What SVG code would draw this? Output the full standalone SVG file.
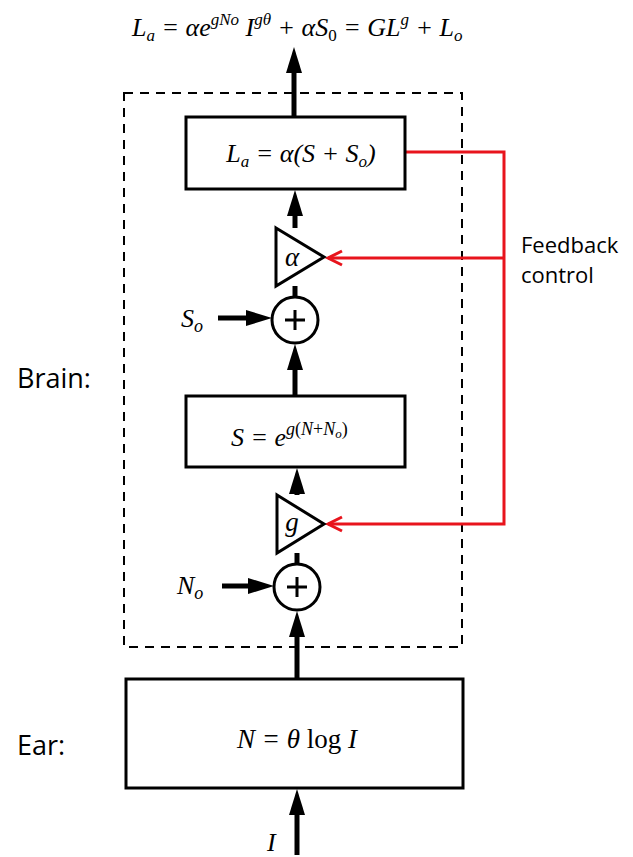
<svg xmlns="http://www.w3.org/2000/svg" width="633" height="857" viewBox="0 0 633 857">
<style>
.box{fill:#fff;stroke:#000;stroke-width:3}
.math{font-family:"Liberation Serif",serif;font-style:italic;fill:#000}
.up{font-style:normal}
.lbl{font-family:"Open Sans","Liberation Sans",sans-serif;fill:#000}
.wire{fill:none;stroke:#000;stroke-width:5}
.red{fill:none;stroke:#e8141c;stroke-width:3}
.dash{fill:none;stroke:#000;stroke-width:2;stroke-dasharray:9 7}
</style>
<defs>
<marker id="ah" markerUnits="userSpaceOnUse" markerWidth="26" markerHeight="16" viewBox="0 0 26 16" refX="16" refY="8" orient="auto">
<path d="M0,0 L26,8 L0,16 z" fill="#000"/>
</marker>
</defs>
<rect id="brain-frame" class="dash" x="124" y="93" width="338" height="554"/>
<g id="connectors">
<path class="wire" d="M294,117 V57" marker-end="url(#ah)"/>
<path class="wire" d="M295,228 V200" marker-end="url(#ah)"/>
<path class="wire" d="M295,286 V297"/>
<path class="wire" d="M295,396 V354" marker-end="url(#ah)"/>
<path class="wire" d="M297,495 V478" marker-end="url(#ah)"/>
<path class="wire" d="M297,553 V564"/>
<path class="wire" d="M297,679 V621" marker-end="url(#ah)"/>
<path class="wire" d="M297,855 V799" marker-end="url(#ah)"/>
<path class="wire" d="M218,318 H262" marker-end="url(#ah)"/>
<path class="wire" d="M222,586 H264" marker-end="url(#ah)"/>
<path class="red" d="M405,152 H504 V524 H328 M504,258 H328"/>
<path class="red" d="M342,251 L328,258 L342,265 M342,517 L328,524 L342,531"/>
</g>
<g id="title">
<text class="math" x="132" y="36" font-size="26"><tspan>L</tspan><tspan font-size="17" dy="5">a</tspan><tspan dy="-5"> = αe</tspan><tspan font-size="17" dy="-11">gNo</tspan><tspan dy="11"> I</tspan><tspan font-size="17" dy="-11">gθ</tspan><tspan dy="11"> + αS</tspan><tspan font-size="17" dy="5" class="up">0</tspan><tspan dy="-5"> = GL</tspan><tspan font-size="17" dy="-11">g</tspan><tspan dy="11"> + L</tspan><tspan font-size="17" dy="5">o</tspan></text>
</g>
<g id="out-box">
<rect class="box" x="186" y="117" width="219" height="72"/>
<text class="math" x="301" y="162" font-size="26" text-anchor="middle"><tspan>L</tspan><tspan font-size="17" dy="5">a</tspan><tspan dy="-5"> = α(S + S</tspan><tspan font-size="17" dy="5">o</tspan><tspan dy="-5">)</tspan></text>
</g>
<g id="gain-alpha">
<polygon class="box" points="276,228 324,257 276,286"/>
<text class="math" x="292" y="266" font-size="27" text-anchor="middle">α</text>
</g>
<g id="sum1">
<circle class="box" cx="295" cy="320" r="23"/>
<path d="M285,320 H305 M295,310 V330" stroke="#000" stroke-width="3"/>
<text class="math" x="181" y="327" font-size="26">S<tspan font-size="18" dy="5">o</tspan></text>
</g>
<g id="s-box">
<rect class="box" x="186" y="396" width="219" height="71"/>
<text class="math" x="231" y="446" font-size="26">S = e<tspan font-size="18" dy="-11">g</tspan><tspan font-size="18" class="up">(</tspan><tspan font-size="18">N</tspan><tspan font-size="18" class="up">+</tspan><tspan font-size="18">N</tspan><tspan font-size="13" dy="3">o</tspan><tspan font-size="18" dy="-3" class="up">)</tspan></text>
</g>
<g id="gain-g">
<polygon class="box" points="277,495 324,524 277,553"/>
<text class="math" x="292" y="531" font-size="27" text-anchor="middle">g</text>
</g>
<g id="sum2">
<circle class="box" cx="297" cy="587" r="23"/>
<path d="M287,587 H307 M297,577 V597" stroke="#000" stroke-width="3"/>
<text class="math" x="177" y="594" font-size="26">N<tspan font-size="18" dy="5">o</tspan></text>
</g>
<g id="ear-box">
<rect class="box" x="126" y="679" width="337" height="109"/>
<text class="math" x="297" y="748" font-size="27" text-anchor="middle">N = θ <tspan class="up">log</tspan> I</text>
</g>
<g id="input-label">
<text class="math" x="267" y="851" font-size="26">I</text>
</g>
<g id="labels">
<text class="lbl" x="17" y="388" font-size="27">Brain:</text>
<text class="lbl" x="17" y="755" font-size="27">Ear:</text>
<text class="lbl" x="521" y="253" font-size="22">Feedback</text>
<text class="lbl" x="521" y="283" font-size="22">control</text>
</g>
</svg>
